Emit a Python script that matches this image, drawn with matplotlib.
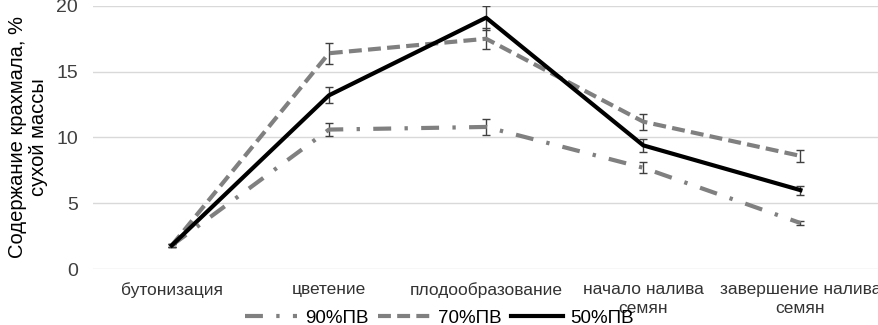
import matplotlib.pyplot as plt
from matplotlib.lines import Line2D
import numpy as np

plt.rcParams['font.family'] = ['Liberation Sans', 'DejaVu Sans']

stages = ['бутонизация', 'цветение', 'плодообразование', 'начало налива\nсемян', 'завершение налива\nсемян']
pv90 = [1.8, 10.6, 10.8, 7.7, 3.5]
pv70 = [1.8, 16.4, 17.5, 11.2, 8.6]
pv50 = [1.8, 13.2, 19.1, 9.4, 6.0]
err90 = [0.1, 0.5, 0.6, 0.4, 0.15]
err70 = [0.1, 0.8, 0.8, 0.6, 0.45]
err50 = [0.1, 0.6, 0.9, 0.5, 0.35]
labels = ['90%ПВ', '70%ПВ', '50%ПВ']

fig = plt.figure(figsize=(8.79, 3.25), dpi=100)
ax = fig.add_axes([0.106, 0.172, 0.894, 0.81])

x = np.arange(len(stages))
gray = '#808080'
d90 = [4.3, 3.2, 0.8, 3.2]
d70 = [3.1, 1.5]
ekw = dict(ecolor='#404040', elinewidth=1, capsize=3, capthick=1)

ax.errorbar(x, pv90, yerr=err90, color=gray, lw=3, dashes=d90, **ekw)
ax.errorbar(x, pv70, yerr=err70, color=gray, lw=3, dashes=d70, **ekw)
ax.errorbar(x, pv50, yerr=err50, color='black', lw=3, **ekw)

ax.set_xlim(-0.5, 4.5)
ax.set_ylim(0, 20)
ax.set_yticks([0, 5, 10, 15, 20])
ax.set_xticks(x)
ax.set_xticklabels(stages, fontsize=12.5, color='#333333', linespacing=1.35)
ax.tick_params(axis='y', labelsize=14, colors='#404040', length=0, pad=11)
ax.tick_params(axis='x', length=0, pad=9.5)
ax.grid(axis='y', color='#d9d9d9', lw=1)
ax.set_axisbelow(True)
for s in ax.spines.values():
    s.set_visible(False)

ax.set_ylabel('Содержание крахмала, %\nсухой массы', fontsize=14.5, linespacing=1.1, labelpad=6)

handles = [Line2D([], [], color=gray, lw=3, dashes=d90),
           Line2D([], [], color=gray, lw=3, dashes=d70),
           Line2D([], [], color='black', lw=3)]
fig.legend(handles, labels, loc='lower center', bbox_to_anchor=(0.5, -0.058), ncol=3, frameon=False,
           fontsize=13.5, handlelength=2.8, columnspacing=0.5, handletextpad=0.4)

fig.savefig('out.png', dpi=100)
